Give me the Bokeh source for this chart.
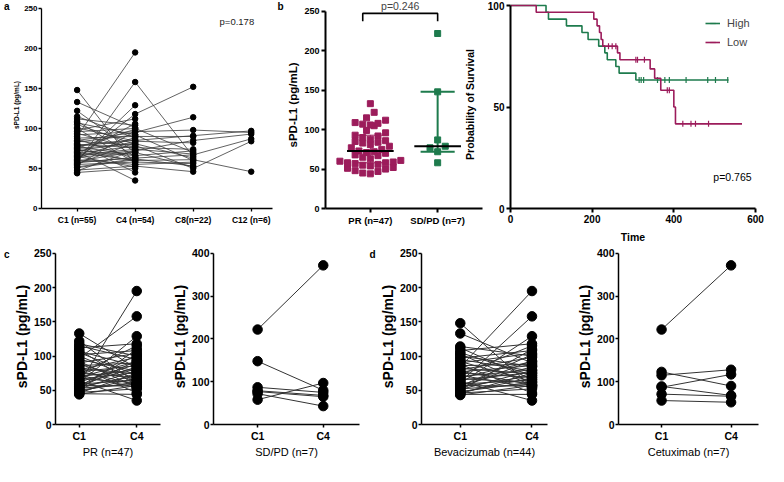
import numpy as np
from bokeh.plotting import figure
from bokeh.models import Range1d, FixedTicker, Label, Legend, LegendItem, LinearAxis
from bokeh.layouts import row, column
from bokeh.embed import file_html
from bokeh.resources import INLINE

FONT = "Liberation Sans"
MAG = "#9c1c5b"
GRN = "#1e7b4d"

# ---------------- data ----------------
a_labels = ["C1 (n=55)", "C4 (n=54)", "C8(n=22)", "C12 (n=6)"]
a_c1 = [78, 92, 66, 58, 84, 70,
        62, 57, 85, 101, 73, 67, 96, 55, 88, 61, 75, 52, 107, 64, 48, 80,
        148, 133, 122, 115, 112, 109, 105, 100, 98, 94, 90, 87, 83, 81, 79, 77, 76,
        74, 72, 71, 69, 68, 65, 63, 60, 59, 57, 56, 54, 51, 47, 45, 44]
a_c4 = [85, 96, 72, 63, 79, 60,
        118, 158, 95, 84, 66, 74, 100, 58, 90, 55, 81, 62, 92, 70, 53, 76,
        55, 101, 70, 88, 104, 65, 80, 57, 112, 74, 195, 62, 92, 45, 86, 67, 99,
        59, 83, 35, 78, 106, 52, 89, 129, 71, 64, 82, 97, 61, 73, 50, None]
a_c8 = [91, 98, 85, 67, 50, 61,
        152, 65, 114, 82, 72, 68, 70, 56, 90, 58, 63, 53, 60, 52, 46, 74]
a_c12 = [97, 95, 93, 87, 84, 46]
a_p = "p=0.178"

b_labels = ["PR (n=47)", "SD/PD (n=7)"]
b_pr = [44, 45, 47, 48, 50, 51, 52, 54, 55, 56, 57, 58, 58, 59, 60, 61, 63, 65, 67, 68,
        70, 71, 72, 73, 75, 77, 79, 81, 83, 84, 85, 86, 88, 90, 92, 93, 96, 99, 105, 106,
        107, 108, 109, 112, 115, 122, 133]
b_sd = [222, 148, 87, 79, 77, 72, 58]
b_p = "p=0.246"

km_high_t = [0, 87, 93, 137, 175, 190, 216, 231, 237, 258, 266, 307, 534]
km_high_s = [100, 96.7, 93.3, 90.0, 86.7, 83.3, 80.0, 76.7, 73.3, 70.0, 66.7, 63.3, 63.3]
km_high_cens = [315, 320, 326, 360, 378, 389, 430, 483, 502, 532]
km_low_t = [0, 63, 204, 212, 218, 222, 226, 262, 268, 342, 353, 368, 400, 404, 567]
km_low_s = [100, 96.7, 93.3, 90.0, 86.7, 83.3, 80.0, 76.7, 73.3, 68.8, 64.2, 58.3, 50.0, 41.7, 41.7]
km_low_cens = [240, 249, 258, 307, 311, 328, 384, 389, 422, 442, 453, 485]
km_p = "p=0.765"

pair_labels = ["C1", "C4"]
pr_c1 = [133, 122, 118, 115, 112, 109, 107, 105, 102, 100, 97, 95, 92, 90, 88, 86, 84, 82, 80, 78,
         77, 75, 74, 72, 70, 69, 67, 66, 64, 62, 61, 60, 59, 58, 57, 56, 55, 54, 53, 52,
         51, 50, 48, 47, 46, 45, 44]
pr_c4 = [82, 60, 100, 95, 118, 57, 85, 72, 108, 66, 158, 78, 55, 104, 63, 90, 46, 74, 98, 58,
         86, 69, 115, 54, 80, 92, 61, 76, 35, 88, 129, 195, 65, 84, 56, 102, 71, 93, 59, 79,
         110, 62, 68, 52, 75, 44, 57]
sd_c1 = [222, 148, 87, 79, 77, 72, 58]
sd_c4 = [372, 80, 75, 68, 65, 43, 97]
bev_c1 = [148, 133, 114, 112, 108, 105, 103, 100, 97, 95, 92, 90, 88, 86, 84, 82, 80, 78, 77, 75,
          73, 72, 70, 68, 67, 65, 63, 62, 60, 59, 58, 57, 56, 55, 54, 52, 51, 50, 48, 47,
          46, 45, 44, 43]
bev_c4 = [55, 90, 100, 66, 118, 72, 57, 85, 108, 78, 63, 104, 46, 88, 195, 74, 98, 58, 86, 69,
          115, 54, 80, 92, 61, 76, 35, 158, 129, 65, 84, 56, 102, 71, 93, 59, 79, 110, 62, 68,
          52, 75, 44, 57]
cet_c1 = [222, 123, 115, 89, 87, 71, 56]
cet_c4 = [372, 90, 128, 68, 117, 66, 52]
bottom_titles = ["PR (n=47)", "SD/PD (n=7)", "Bevacizumab (n=44)", "Cetuximab (n=7)"]
y_title = "sPD-L1 (pg/mL)"
panel_letters = ["a", "b", "c", "d"]


# ---------------- helpers ----------------
def make_fig(w, h, ml, mr, mt, mb, xr, yr):
    p = figure(width=w, height=h, x_range=Range1d(*xr), y_range=Range1d(*yr),
               output_backend="svg", toolbar_location=None,
               min_border_left=ml, min_border_right=mr, min_border_top=mt, min_border_bottom=mb)
    p.outline_line_color = None
    p.xgrid.visible = False
    p.ygrid.visible = False
    g = dict(fl=ml, fr=w - mr, ft=mt, fb=h - mb, x0=xr[0], x1=xr[1], y0=yr[0], y1=yr[1])
    return p, g


def cat_range(frame_px, c1_px, c2_px):
    k = (c2_px - c1_px)
    start = 1 - c1_px / k
    return (start, start + frame_px / k)


def dx(g, px):
    return g["x0"] + (px - g["fl"]) / (g["fr"] - g["fl"]) * (g["x1"] - g["x0"])


def dy(g, py):
    return g["y1"] - (py - g["ft"]) / (g["fb"] - g["ft"]) * (g["y1"] - g["y0"])


def add_text(p, g, px, py, text, size, bold=False, align="left", baseline="top",
             angle=0.0, color="black"):
    p.add_layout(Label(x=dx(g, px), y=dy(g, py), text=text, text_font=FONT,
                       text_font_size=f"{size}px",
                       text_font_style="bold" if bold else "normal",
                       text_align=align, text_baseline=baseline, angle=angle,
                       text_color=color))


def letter_axis(p, yv, letter):
    # outer left axis with no line/ticks: its single tick label is the panel letter
    ax = LinearAxis(ticker=FixedTicker(ticks=[yv]), major_label_overrides={yv: letter},
                    axis_line_color=None, major_tick_line_color=None, minor_tick_line_color=None,
                    major_tick_out=0, major_tick_in=0, minor_tick_out=0, minor_tick_in=0,
                    major_label_standoff=1, major_label_text_font=FONT,
                    major_label_text_font_size="10px", major_label_text_font_style="bold",
                    major_label_text_color="black")
    p.add_layout(ax, "left")


def style(p, lw, tick_px, tick_out=4, standoff=2):
    for ax in (p.xaxis[0], p.yaxis[0]):
        ax.axis_line_width = lw
        ax.axis_line_color = "black"
        ax.major_tick_line_width = lw
        ax.major_tick_line_color = "black"
        ax.major_tick_out = tick_out
        ax.major_tick_in = 0
        ax.minor_tick_line_color = None
        ax.major_label_text_font = FONT
        ax.major_label_text_font_size = f"{tick_px}px"
        ax.major_label_text_font_style = "bold"
        ax.major_label_text_color = "black"
        ax.major_label_standoff = standoff
        ax.axis_label_text_font = FONT
        ax.axis_label_text_color = "black"
        ax.axis_label_standoff = standoff


def gp_pct(v, q):
    s = np.sort(np.asarray(v, dtype=float))
    n = len(s)
    r = (n + 1) * q
    lo = int(np.floor(r))
    frac = r - lo
    lo = min(max(lo, 1), n)
    hi = min(lo + 1, n)
    return s[lo - 1] + frac * (s[hi - 1] - s[lo - 1])


def column_scatter(vals, center, kx, ky, row_px=7.0, gap_px=8.0):
    vals = np.asarray(vals, dtype=float)
    bins = np.floor(vals * ky / row_px).astype(int)
    xs = np.empty(len(vals))
    for b in np.unique(bins):
        idx = np.where(bins == b)[0]
        idx = idx[np.argsort(vals[idx])]
        n = len(idx)
        offs = (np.arange(n) - (n - 1) / 2) * gap_px
        order = np.argsort(np.abs(offs), kind="stable")
        xs[idx] = center + offs[order] / kx
    return xs


TOP_H = 248
BOT_H = 212

# ---------------- panel a ----------------
a_ytop = 250 + 7 * 250 / 203
pa, ga = make_fig(274, TOP_H, 32, 2, 0, TOP_H - 210, cat_range(240, 37, 97.3), (0, a_ytop))
style(pa, 1.3, 8.5, tick_out=3, standoff=1)
pa.xaxis.major_label_standoff = 3
pa.xaxis.ticker = FixedTicker(ticks=[1, 2, 3, 4])
pa.xaxis.major_label_overrides = {i + 1: t for i, t in enumerate(a_labels)}
pa.yaxis.ticker = FixedTicker(ticks=list(range(0, 251, 50)))
pa.yaxis.bounds = (0, 250)
pa.yaxis.major_label_text_font_size = "8px"
pa.yaxis.axis_label = y_title
pa.yaxis.axis_label_text_font_size = "6.5px"
pa.yaxis.axis_label_text_font_style = "bold"
letter_axis(pa, 252, panel_letters[0])

x0s, y0s, x1s, y1s = [], [], [], []
for i, v in enumerate(a_c1):
    if a_c4[i] is not None:
        x0s.append(1); y0s.append(v); x1s.append(2); y1s.append(a_c4[i])
for i, v in enumerate(a_c8):
    x0s.append(2); y0s.append(a_c4[i]); x1s.append(3); y1s.append(v)
for i, v in enumerate(a_c12):
    x0s.append(3); y0s.append(a_c8[i]); x1s.append(4); y1s.append(v)
pa.segment(x0s, y0s, x1s, y1s, line_color="#3a3a3a", line_width=0.8)
c4_valid = [v for v in a_c4 if v is not None]
pa.scatter([1] * len(a_c1) + [2] * len(c4_valid) + [3] * len(a_c8) + [4] * len(a_c12),
           a_c1 + c4_valid + a_c8 + a_c12, size=5.5, color="black")
add_text(pa, ga, 217, 20, a_p, 9.5, baseline="middle", color="#222222")

# ---------------- panel b ----------------
pb, gb = make_fig(210, TOP_H, 43, 2, 1, TOP_H - 210, (0, 3.5), (0, 262.6))
style(pb, 2, 9)
pb.xaxis.ticker = FixedTicker(ticks=[1, 2.5])
pb.xaxis.major_label_overrides = {1: b_labels[0], 2.5: b_labels[1]}
pb.xaxis.major_label_text_font_size = "9.5px"
pb.yaxis.ticker = FixedTicker(ticks=list(range(0, 251, 50)))
pb.yaxis.bounds = (0, 250)
pb.yaxis.axis_label = y_title
pb.yaxis.axis_label_text_font_size = "11.5px"
pb.yaxis.axis_label_text_font_style = "bold"
letter_axis(pb, 257, panel_letters[1])

kx = (gb["fr"] - gb["fl"]) / 3.5
ky = (gb["fb"] - gb["ft"]) / 262.6
for vals, xc, col, lw_bar in ((b_pr, 1.0, MAG, 1.0), (b_sd, 2.5, GRN, 2.0)):
    xs = column_scatter(vals, xc, kx, ky)
    pb.scatter(xs, vals, marker="square", size=6, color=col)
    q1, med, q3 = gp_pct(vals, 0.25), gp_pct(vals, 0.5), gp_pct(vals, 0.75)
    pb.segment([xc, xc - 0.38, xc - 0.38], [q1, q1, q3], [xc, xc + 0.38, xc + 0.38], [q3, q1, q3],
               line_color=col, line_width=lw_bar)
    pb.segment([xc - 0.52], [med], [xc + 0.52], [med], line_color="black", line_width=2)

yb_top, yb_bot = dy(gb, 13), dy(gb, 21)
pb.line([0.83, 0.83, 2.5, 2.5], [yb_bot, yb_top, yb_top, yb_bot], line_color="black", line_width=1.6)
pb.add_layout(Label(x=(0.83 + 2.5) / 2, y=dy(gb, 6), text=b_p, text_font=FONT,
                    text_font_size="10.5px", text_align="center", text_baseline="middle"))
add_text(pb, gb, 195, 105, "Probability of Survival", 10.5, bold=True, align="center",
         baseline="middle", angle=np.pi / 2)

# ---------------- Kaplan-Meier ----------------
pk, gk = make_fig(280, TOP_H, 21, 9, 0, TOP_H - 208, (0, 600), (0, 102))
style(pk, 2, 10)
pk.xaxis.ticker = FixedTicker(ticks=[0, 200, 400, 600])
pk.yaxis.ticker = FixedTicker(ticks=[0, 50, 100])
pk.yaxis.bounds = (0, 100)
pk.xaxis.axis_label = "Time"
pk.xaxis.axis_label_text_font_size = "10.5px"
pk.xaxis.axis_label_text_font_style = "bold"
pk.xaxis.axis_label_standoff = 5


def km_group(t, s, cens, col):
    t = np.asarray(t, float)
    s = np.asarray(s, float)
    r1 = pk.step(t, s, mode="after", line_color=col, line_width=1.6)
    idx = np.searchsorted(t, cens, side="right") - 1
    r2 = pk.scatter(cens, s[idx], marker="dash", angle=np.pi / 2, size=6,
                    line_color=col, line_width=1.2)
    return [r1, r2]


rh = km_group(km_high_t, km_high_s, km_high_cens, GRN)
rl = km_group(km_low_t, km_low_s, km_low_cens, MAG)
leg = Legend(items=[LegendItem(label="High", renderers=rh), LegendItem(label="Low", renderers=rl)],
             location=(195, 159), glyph_width=15, glyph_height=14, label_height=14,
             spacing=5, label_standoff=7, padding=0, margin=0,
             border_line_color=None, background_fill_alpha=0,
             label_text_font=FONT, label_text_font_size="11px")
pk.add_layout(leg)
add_text(pk, gk, 228, 176, km_p, 10.5, baseline="middle")


# ---------------- bottom row ----------------
def pair_panel(w, ml, mr, xr, c1, c4, ymax, ystep, title, letter=None):
    frame_bottom = 180
    ytop = ymax * frame_bottom / (frame_bottom - 5)
    p, g = make_fig(w, BOT_H, ml, mr, 0, BOT_H - frame_bottom, xr, (0, ytop))
    style(p, 1.5, 10.5, tick_out=3, standoff=1)
    p.xaxis.major_label_standoff = 2
    p.xaxis.ticker = FixedTicker(ticks=[1, 2])
    p.xaxis.major_label_overrides = {1: pair_labels[0], 2: pair_labels[1]}
    p.xaxis.axis_label = title
    p.xaxis.axis_label_text_font_size = "11px"
    p.xaxis.axis_label_text_font_style = "normal"
    p.yaxis.ticker = FixedTicker(ticks=list(range(0, ymax + 1, ystep)))
    p.yaxis.bounds = (0, ymax)
    p.yaxis.axis_label = y_title
    p.yaxis.axis_label_text_font_size = "14px"
    p.yaxis.axis_label_text_font_style = "bold"
    if letter is not None:
        letter_axis(p, ymax - ymax // 125, letter)
    p.segment([1] * len(c1), c1, [2] * len(c4), c4, line_color="#333333", line_width=1)
    p.scatter([1] * len(c1) + [2] * len(c4), c1 + c4, size=9.5, color="black")
    return p, g


pc1, gc1 = pair_panel(168, 45, 8, cat_range(115, 26, 89), pr_c1, pr_c4, 250, 50,
                      bottom_titles[0], panel_letters[2])
pc2, gc2 = pair_panel(198, 42, 7, cat_range(149, 45, 112), sd_c1, sd_c4, 400, 100,
                      bottom_titles[1])
pd1, gd1 = pair_panel(207, 51, 26, cat_range(130, 40, 114), bev_c1, bev_c4, 250, 50,
                      bottom_titles[2], panel_letters[3])
pd2, gd2 = pair_panel(191, 42, 6, cat_range(143, 44, 115), cet_c1, cet_c4, 400, 100,
                      bottom_titles[3])

layout = column(row(pa, pb, pk, spacing=0), row(pc1, pc2, pd1, pd2, spacing=0), spacing=0)
open("out.html", "w").write(file_html(layout, INLINE))
